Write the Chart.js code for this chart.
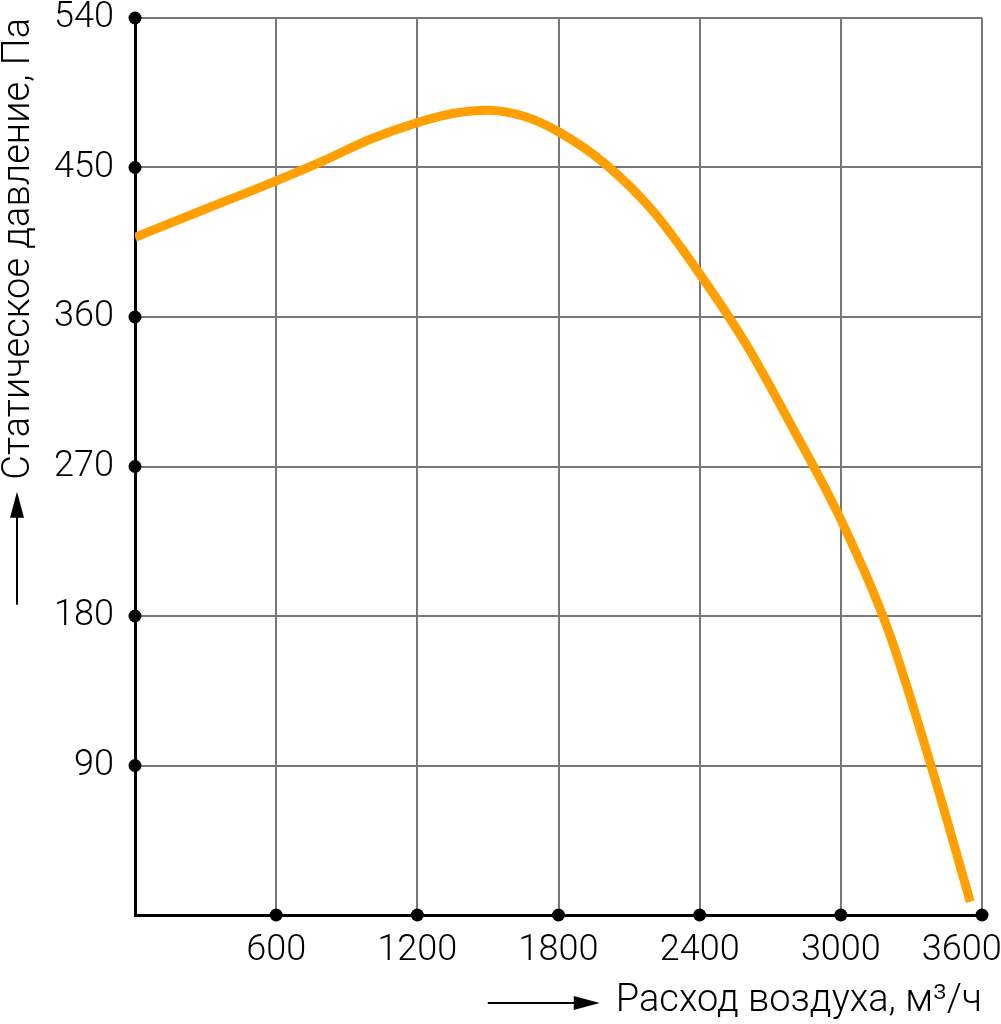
<!DOCTYPE html>
<html lang="ru">
<head>
<meta charset="utf-8">
<title>Статическое давление</title>
<script src="https://cdn.jsdelivr.net/npm/chart.js@4.4.0/dist/chart.umd.min.js"></script>
<style>
  html, body { margin: 0; padding: 0; background: #fff; }
  #wrap { width: 1001px; height: 1024px; position: relative; }
</style>
</head>
<body>
<div id="wrap"><canvas id="fanChart"></canvas></div>
<script>
// ================================================================
// Data
// ================================================================
const airFlow = [0, 300, 600, 800, 1000, 1200, 1350, 1500, 1650, 1800, 2000, 2200, 2400, 2600, 2800, 3000, 3200, 3400, 3550];
const staticPressure = [408, 425, 442, 454, 467, 477, 482.5, 484.5, 481, 471.5, 452, 424, 386, 343, 292, 238, 172, 82, 8];

const xTicks = [600, 1200, 1800, 2400, 3000, 3600];
const yTicks = [90, 180, 270, 360, 450, 540];

const xTitle = 'Расход воздуха, м³/ч';
const yTitle = 'Статическое давление, Па';

const FONT = 'Roboto';
const TICK_SIZE = 36;
const TITLE_SIZE = 38;
const lineColor = '#ffa000';

// ================================================================
// Dots on the axes + arrows next to the titles
// ================================================================
const axisDecor = {
  id: 'axisDecor',
  afterDraw(chart) {
    const ctx = chart.ctx;
    const area = chart.chartArea;
    const xs = chart.scales.x;
    const ys = chart.scales.y;

    ctx.save();
    ctx.fillStyle = '#000';
    xTicks.forEach(v => {
      ctx.beginPath();
      ctx.arc(xs.getPixelForValue(v), area.bottom, 6.5, 0, Math.PI * 2);
      ctx.fill();
    });
    yTicks.forEach(v => {
      ctx.beginPath();
      ctx.arc(area.left, ys.getPixelForValue(v), 6.5, 0, Math.PI * 2);
      ctx.fill();
    });

    // arrows
    ctx.font = '300 ' + TITLE_SIZE + 'px ' + FONT;
    const xw = ctx.measureText(xTitle).width;
    const yw = ctx.measureText(yTitle).width;
    ctx.strokeStyle = '#000';
    ctx.lineWidth = 2;

    // horizontal arrow, left of the x title
    const ax = xs.right - xw - 16;
    const ay = 1003;
    ctx.beginPath();
    ctx.moveTo(ax - 112, ay);
    ctx.lineTo(ax - 24, ay);
    ctx.stroke();
    ctx.beginPath();
    ctx.moveTo(ax, ay);
    ctx.lineTo(ax - 26, ay - 7);
    ctx.lineTo(ax - 26, ay + 7);
    ctx.closePath();
    ctx.fill();

    // vertical arrow, below the y title
    const bx = 17;
    const by = area.top + yw + 12;
    ctx.beginPath();
    ctx.moveTo(bx, by + 113);
    ctx.lineTo(bx, by + 24);
    ctx.stroke();
    ctx.beginPath();
    ctx.moveTo(bx, by);
    ctx.lineTo(bx - 7, by + 26);
    ctx.lineTo(bx + 7, by + 26);
    ctx.closePath();
    ctx.fill();
    ctx.restore();
  }
};

const config = {
  type: 'line',
  data: {
    datasets: [{
      label: 'Статическое давление',
      data: airFlow.map((x, i) => ({x: x, y: staticPressure[i]})),
      borderColor: lineColor,
      borderWidth: 9,
      pointRadius: 0,
      cubicInterpolationMode: 'monotone',
      fill: false
    }]
  },
  options: {
    responsive: true,
    maintainAspectRatio: false,
    devicePixelRatio: 1,
    animation: false,
    layout: {
      padding: {top: 18, right: 19, left: 0, bottom: 0}
    },
    plugins: {
      legend: {display: false},
      tooltip: {enabled: false}
    },
    scales: {
      x: {
        type: 'linear',
        min: 0,
        max: 3600,
        afterBuildTicks: (scale) => {
          scale.ticks = [0].concat(xTicks).map(v => ({value: v}));
        },
        afterFit: (scale) => {
          scale.height = 109;
          scale.paddingLeft = 0;
          scale.paddingRight = 0;
        },
        grid: {
          color: '#777',
          lineWidth: 2,
          drawTicks: false
        },
        border: {color: '#000', width: 3},
        ticks: {
          color: '#000',
          padding: 14,
          maxRotation: 0,
          autoSkip: false,
          font: {family: FONT, size: TICK_SIZE, weight: '300'},
          // last label sits left of its tick, as in the original
          callback: (v) => v === 0 ? '' : (v === 3600 ? v + '\u2007\u2007' : v)
        },
        title: {
          display: true,
          text: xTitle,
          align: 'end',
          color: '#000',
          font: {family: FONT, size: TITLE_SIZE, weight: '300', lineHeight: 1},
          padding: {top: 0, bottom: 4}
        }
      },
      y: {
        min: 0,
        max: 540,
        afterBuildTicks: (scale) => {
          scale.ticks = [0].concat(yTicks).map(v => ({value: v}));
        },
        afterFit: (scale) => {
          scale.width = 135;
          scale.paddingTop = 0;
          scale.paddingBottom = 0;
        },
        grid: {
          color: '#777',
          lineWidth: 2,
          drawTicks: false
        },
        border: {color: '#000', width: 3},
        ticks: {
          color: '#000',
          padding: 21,
          autoSkip: false,
          font: {family: FONT, size: TICK_SIZE, weight: '300'},
          callback: (v) => v === 0 ? '' : v
        },
        title: {
          display: true,
          text: yTitle,
          align: 'end',
          color: '#000',
          font: {family: FONT, size: TITLE_SIZE, weight: '300', lineHeight: 1},
          padding: {top: 0, bottom: 0}
        }
      }
    }
  },
  plugins: [axisDecor]
};

new Chart(document.getElementById('fanChart'), config);
</script>
</body>
</html>
